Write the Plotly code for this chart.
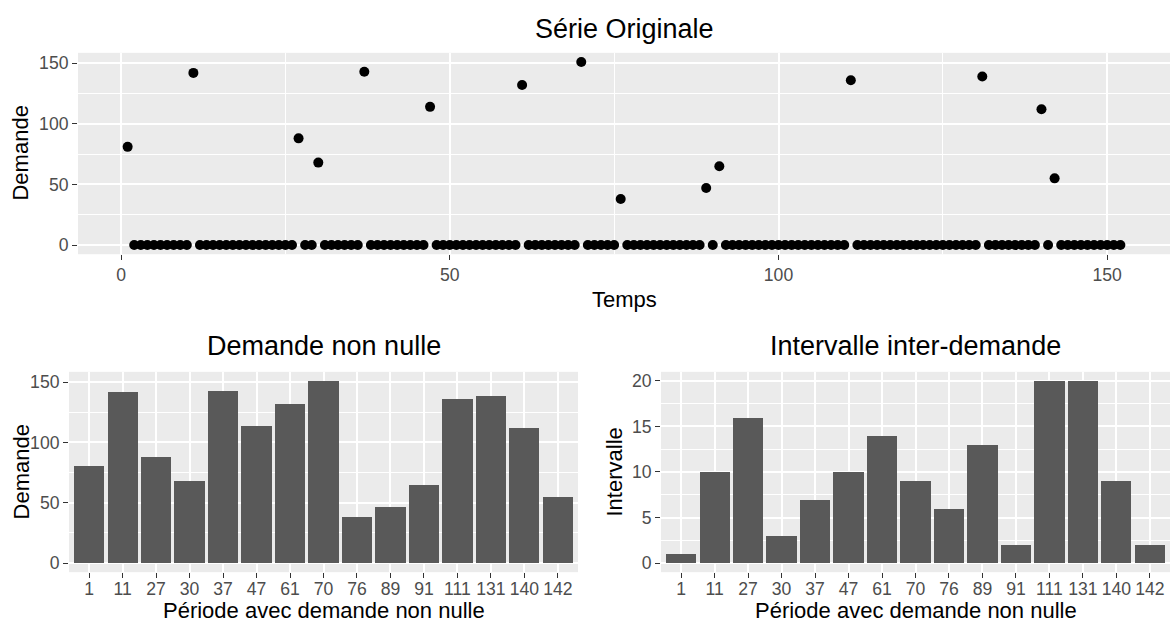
import plotly.graph_objects as go

# ---- data ----
n_periods = 152
demand_periods = [1, 11, 27, 30, 37, 47, 61, 70, 76, 89, 91, 111, 131, 140, 142]
demand_values = [81, 142, 88, 68, 143, 114, 132, 151, 38, 47, 65, 136, 139, 112, 55]
intervals = [1, 10, 16, 3, 7, 10, 14, 9, 6, 13, 2, 20, 20, 9, 2]

time = list(range(1, n_periods + 1))
lookup = dict(zip(demand_periods, demand_values))
series = [lookup.get(t, 0) for t in time]
cat_labels = [str(p) for p in demand_periods]

W, H = 1171, 628
FONT = "Liberation Sans, Arial, sans-serif"
TICK_FONT = dict(family=FONT, size=17.6, color="#4D4D4D")
TITLE_SIZE = 27
AX_TITLE_SIZE = 22
BG = "#EBEBEB"
BAR = "#595959"


def px_x(x):
    return x / W


def px_y(y):
    return 1 - y / H


fig = go.Figure()

fig.add_trace(go.Scatter(
    x=time, y=series, mode="markers",
    marker=dict(color="black", size=10, line=dict(width=0)),
    xaxis="x", yaxis="y", showlegend=False, hoverinfo="x+y"))

fig.add_trace(go.Bar(
    x=cat_labels, y=demand_values, width=0.9,
    marker=dict(color=BAR, line=dict(width=0)),
    xaxis="x2", yaxis="y2", showlegend=False))

fig.add_trace(go.Bar(
    x=cat_labels, y=intervals, width=0.9,
    marker=dict(color=BAR, line=dict(width=0)),
    xaxis="x3", yaxis="y3", showlegend=False))

common = dict(
    showline=False, zeroline=False, ticks="outside", ticklen=5, tickwidth=1.4,
    tickcolor="#333333", gridcolor="white", gridwidth=2, tickfont=TICK_FONT,
    fixedrange=True,
)

span = max(time) - min(time)
dmax = max(demand_values)
imax = max(intervals)

fig.update_layout(
    width=W, height=H, margin=dict(l=0, r=0, t=0, b=0), autosize=False,
    paper_bgcolor="white", plot_bgcolor=BG, bargap=0,
    font=dict(family=FONT, color="black"),
    xaxis=dict(domain=[px_x(78), px_x(1170)], anchor="y",
               range=[min(time) - 0.05 * span, max(time) + 0.05 * span],
               tickmode="array", tickvals=[0, 50, 100, 150],
               minor=dict(tickvals=[25, 75, 125], showgrid=True, gridcolor="white",
                          gridwidth=1, ticks=""),
               **common),
    yaxis=dict(domain=[px_y(254), px_y(52)], anchor="x",
               range=[-0.05 * dmax, dmax * 1.05],
               tickmode="array", tickvals=[0, 50, 100, 150],
               minor=dict(tickvals=[25, 75, 125], showgrid=True, gridcolor="white",
                          gridwidth=1, ticks=""),
               **common),
    xaxis2=dict(domain=[px_x(69), px_x(578)], anchor="y2", type="category",
                range=[-0.6, len(cat_labels) - 0.4], ticklabelstandoff=-4, **common),
    yaxis2=dict(domain=[px_y(573), px_y(372)], anchor="x2",
                range=[-0.05 * dmax, dmax * 1.05],
                tickmode="array", tickvals=[0, 50, 100, 150],
                minor=dict(tickvals=[25, 75, 125], showgrid=True, gridcolor="white",
                           gridwidth=1, ticks=""),
                **common),
    xaxis3=dict(domain=[px_x(661), px_x(1170)], anchor="y3", type="category",
                range=[-0.6, len(cat_labels) - 0.4], ticklabelstandoff=-4, **common),
    yaxis3=dict(domain=[px_y(573), px_y(372)], anchor="x3",
                range=[-0.05 * imax, imax * 1.05],
                tickmode="array", tickvals=[0, 5, 10, 15, 20],
                minor=dict(tickvals=[2.5, 7.5, 12.5, 17.5], showgrid=True,
                           gridcolor="white", gridwidth=1, ticks=""),
                **common),
)

ann = []


def text(x, y, s, size, angle=0):
    ann.append(dict(x=px_x(x), y=px_y(y), xref="paper", yref="paper", text=s,
                    showarrow=False, xanchor="center", yanchor="middle",
                    textangle=angle, font=dict(family=FONT, size=size, color="black")))


# titles
text(624, 28, "Série Originale", TITLE_SIZE)
text(323.5, 346, "Demande non nulle", TITLE_SIZE)
text(915.5, 346, "Intervalle inter-demande", TITLE_SIZE)
# axis titles
text(624, 299, "Temps", AX_TITLE_SIZE)
text(21, 153, "Demande", AX_TITLE_SIZE, -90)
text(323.5, 611, "Période avec demande non nulle", AX_TITLE_SIZE)
text(21, 473, "Demande", AX_TITLE_SIZE, -90)
text(915.5, 611, "Période avec demande non nulle", AX_TITLE_SIZE)
text(614, 473, "Intervalle", AX_TITLE_SIZE, -90)

fig.update_layout(annotations=ann)
fig.write_html("out.html")
